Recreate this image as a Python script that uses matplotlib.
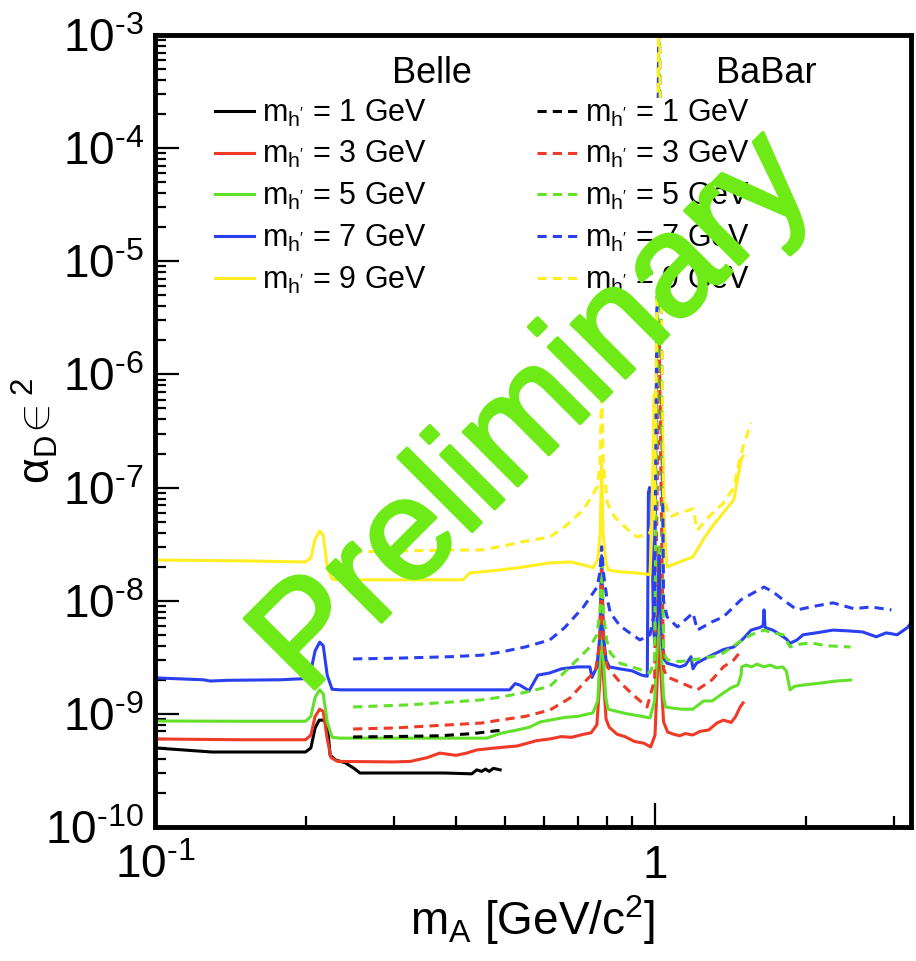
import matplotlib
matplotlib.use("Agg")
import matplotlib.pyplot as plt
import matplotlib.patheffects as pe
from matplotlib.ticker import FixedLocator, NullFormatter

plt.rcParams['font.family'] = ['Liberation Sans', 'DejaVu Sans']
plt.rcParams['mathtext.fontset'] = 'custom'
plt.rcParams['mathtext.rm'] = 'Liberation Sans'
plt.rcParams['mathtext.it'] = 'Liberation Sans:italic'
plt.rcParams['mathtext.bf'] = 'Liberation Sans:bold'
plt.rcParams['mathtext.sf'] = 'Liberation Sans'

# ---------------- Belle limits (solid) ----------------
belle_x_1 = [0.100, 0.130, 0.180, 0.200, 0.205, 0.209, 0.213, 0.217, 0.221, 0.224, 0.230, 0.240,
             0.250, 0.257, 0.300, 0.380, 0.430, 0.440, 0.450, 0.458, 0.466, 0.475, 0.490]
belle_y_1 = [5.0e-10, 4.6e-10, 4.6e-10, 4.6e-10, 5.0e-10, 7.5e-10, 8.8e-10, 8.8e-10, 8.2e-10, 4.3e-10,
             3.9e-10, 3.7e-10, 3.3e-10, 3.0e-10, 3.0e-10, 3.0e-10, 2.95e-10, 3.2e-10, 3.1e-10, 3.25e-10,
             3.1e-10, 3.3e-10, 3.2e-10]

belle_x_3 = [0.100, 0.150, 0.200, 0.205, 0.209, 0.2135, 0.217, 0.221, 0.225, 0.232, 0.300, 0.324, 0.350,
             0.371, 0.400, 0.420, 0.440, 0.480, 0.530, 0.580, 0.616, 0.650, 0.680, 0.720, 0.745, 0.765,
             0.776, 0.782, 0.788, 0.798, 0.810, 0.840, 0.870, 0.910, 0.950, 0.980, 1.000, 1.012, 1.019,
             1.026, 1.040, 1.060, 1.090, 1.120, 1.150, 1.190, 1.230, 1.280, 1.330, 1.370, 1.420, 1.450,
             1.480, 1.500]
belle_y_3 = [6.0e-10, 5.9e-10, 5.9e-10, 6.5e-10, 9.5e-10, 1.1e-9, 1.05e-9, 6.0e-10, 4.1e-10, 3.8e-10,
             3.76e-10, 3.8e-10, 4.1e-10, 4.5e-10, 4.3e-10, 4.5e-10, 4.8e-10, 5.0e-10, 5.2e-10, 5.8e-10,
             6.0e-10, 6.3e-10, 6.2e-10, 6.6e-10, 6.8e-10, 8.0e-10, 2.0e-9, 1.5e-8, 2.2e-9, 9.0e-10,
             7.6e-10, 6.6e-10, 6.3e-10, 5.7e-10, 5.5e-10, 5.1e-10, 6.5e-10, 2.5e-9, 2.0e-8, 2.5e-9,
             8.5e-10, 6.9e-10, 6.6e-10, 6.4e-10, 6.7e-10, 6.5e-10, 7.0e-10, 7.2e-10, 8.3e-10, 8.8e-10,
             8.4e-10, 9.5e-10, 1.15e-9, 1.25e-9]

belle_x_5 = [0.100, 0.150, 0.200, 0.205, 0.209, 0.2135, 0.217, 0.221, 0.226, 0.235, 0.300, 0.400, 0.461,
             0.480, 0.496, 0.530, 0.560, 0.590, 0.616, 0.660, 0.700, 0.751, 0.768, 0.777, 0.782, 0.787,
             0.797, 0.805, 0.840, 0.880, 0.930, 0.977, 0.998, 1.010, 1.019, 1.028, 1.040, 1.050, 1.090,
             1.130, 1.190, 1.250, 1.300, 1.370, 1.420, 1.465, 1.486, 1.490, 1.520, 1.560, 1.600, 1.650,
             1.700, 1.750, 1.800, 1.830, 1.862, 1.900, 1.980, 2.100, 2.200, 2.300, 2.460]
belle_y_5 = [8.65e-10, 8.6e-10, 8.6e-10, 9.5e-10, 1.4e-9, 1.63e-9, 1.5e-9, 8.5e-10, 6.2e-10, 6.1e-10,
             6.1e-10, 6.1e-10, 6.1e-10, 6.5e-10, 6.8e-10, 7.2e-10, 7.6e-10, 8.5e-10, 8.8e-10, 9.3e-10,
             9.5e-10, 1.02e-9, 1.3e-9, 3.5e-9, 2.0e-8, 3.5e-9, 1.4e-9, 1.1e-9, 1.05e-9, 1.0e-9, 9.6e-10,
             9.2e-10, 1.3e-9, 4.0e-9, 3.0e-8, 4.0e-9, 1.4e-9, 1.15e-9, 1.12e-9, 1.1e-9, 1.1e-9, 1.3e-9,
             1.3e-9, 1.53e-9, 1.7e-9, 1.8e-9, 2.2e-9, 2.6e-9, 2.7e-9, 2.6e-9, 2.75e-9, 2.6e-9, 2.7e-9,
             2.55e-9, 2.6e-9, 2.4e-9, 1.63e-9, 1.75e-9, 1.8e-9, 1.85e-9, 1.9e-9, 1.95e-9, 1.99e-9]

belle_x_7 = [0.100, 0.125, 0.129, 0.140, 0.178, 0.200, 0.205, 0.209, 0.2135, 0.217, 0.221, 0.226, 0.235,
             0.300, 0.400, 0.512, 0.525, 0.536, 0.560, 0.583, 0.600, 0.616, 0.650, 0.700, 0.741, 0.748,
             0.765, 0.776, 0.782, 0.788, 0.798, 0.810, 0.850, 0.900, 0.940, 0.965, 0.970, 0.975, 0.985,
             0.992, 1.000, 1.012, 1.019, 1.026, 1.035, 1.045, 1.057, 1.090, 1.120, 1.150, 1.180, 1.191,
             1.210, 1.280, 1.370, 1.437, 1.500, 1.556, 1.620, 1.645, 1.652, 1.660, 1.720, 1.780, 1.830,
             1.862, 1.923, 1.977, 2.100, 2.270, 2.450, 2.600, 2.770, 2.900, 3.050, 3.200, 3.300]
belle_y_7 = [2.08e-9, 2.0e-9, 1.95e-9, 1.98e-9, 2.0e-9, 2.05e-9, 2.4e-9, 3.6e-9, 4.3e-9, 4.0e-9, 2.2e-9,
             1.65e-9, 1.63e-9, 1.63e-9, 1.63e-9, 1.63e-9, 1.85e-9, 1.8e-9, 1.6e-9, 2.2e-9, 2.25e-9,
             2.3e-9, 2.5e-9, 2.6e-9, 2.6e-9, 2.1e-9, 2.6e-9, 5.0e-9, 2.5e-8, 5.0e-9, 3.0e-9, 2.6e-9,
             2.5e-9, 2.4e-9, 2.2e-9, 2.15e-9, 9.0e-8, 1.0e-7, 9.0e-8, 6.0e-9, 4.0e-9, 8.0e-9, 2.5e-8,
             8.0e-9, 4.0e-9, 3.0e-9, 2.8e-9, 2.7e-9, 2.6e-9, 2.7e-9, 3.2e-9, 2.5e-9, 2.8e-9, 3.2e-9,
             3.7e-9, 3.9e-9, 4.6e-9, 5.5e-9, 5.8e-9, 6.0e-9, 8.3e-9, 5.8e-9, 5.5e-9, 5.0e-9, 4.6e-9,
             4.2e-9, 4.5e-9, 5.0e-9, 5.2e-9, 5.5e-9, 5.4e-9, 5.3e-9, 4.8e-9, 5.2e-9, 5.0e-9, 5.8e-9,
             7.0e-9]

belle_x_9 = [0.100, 0.150, 0.200, 0.205, 0.209, 0.2135, 0.217, 0.221, 0.226, 0.235, 0.300, 0.413, 0.426,
             0.450, 0.489, 0.530, 0.570, 0.616, 0.680, 0.741, 0.751, 0.768, 0.777, 0.782, 0.787, 0.797,
             0.806, 0.851, 0.920, 0.977, 0.985, 0.995, 1.005, 1.019, 1.032, 1.045, 1.057, 1.108, 1.191,
             1.250, 1.300, 1.370, 1.437, 1.465, 1.486, 1.500]
belle_y_9 = [2.29e-8, 2.25e-8, 2.2e-8, 2.4e-8, 3.5e-8, 4.14e-8, 3.8e-8, 2.0e-8, 1.55e-8, 1.53e-8,
             1.53e-8, 1.53e-8, 1.76e-8, 1.8e-8, 1.87e-8, 1.95e-8, 2.05e-8, 2.16e-8, 2.2e-8, 2.0e-8,
             1.95e-8, 2.3e-8, 4.0e-8, 1.6e-7, 4.0e-8, 2.2e-8, 1.87e-8, 1.8e-8, 1.76e-8, 1.7e-8, 4.0e-8,
             6.5e-7, 7.3e-7, 7.0e-7, 5.0e-7, 4.0e-8, 1.99e-8, 2.16e-8, 2.44e-8, 3.5e-8, 4.5e-8, 6.0e-8,
             7.8e-8, 1.24e-7, 1.76e-7, 1.9e-7]

# ---------------- BaBar limits (dashed) ----------------
babar_x_1 = [0.249, 0.300, 0.371, 0.433, 0.470, 0.498]
babar_y_1 = [6.25e-10, 6.3e-10, 6.4e-10, 6.7e-10, 7.0e-10, 7.2e-10]

babar_x_3 = [0.249, 0.300, 0.389, 0.450, 0.489, 0.550, 0.616, 0.676, 0.730, 0.760, 0.774, 0.782, 0.790,
             0.803, 0.851, 0.900, 0.964, 0.998, 1.010, 1.019, 1.028, 1.040, 1.057, 1.122, 1.215, 1.300,
             1.370, 1.437, 1.486]
babar_y_3 = [7.35e-10, 7.5e-10, 8.0e-10, 8.3e-10, 8.8e-10, 9.5e-10, 1.08e-9, 1.38e-9, 2.0e-9, 2.4e-9,
             4.0e-9, 2.0e-8, 4.0e-9, 2.6e-9, 1.9e-9, 1.5e-9, 1.15e-9, 2.0e-9, 1.0e-7, 3.0e-6, 1.0e-7,
             2.5e-9, 2.12e-9, 1.9e-9, 1.63e-9, 2.0e-9, 2.6e-9, 3.0e-9, 3.6e-9]

babar_x_5 = [0.249, 0.320, 0.389, 0.450, 0.489, 0.550, 0.616, 0.676, 0.741, 0.765, 0.776, 0.782, 0.788,
             0.800, 0.814, 0.851, 0.900, 0.977, 0.998, 1.010, 1.019, 1.028, 1.040, 1.057, 1.120, 1.191,
             1.300, 1.370, 1.465, 1.556, 1.652, 1.720, 1.803, 1.862, 1.923, 2.050, 2.200, 2.460]
babar_y_5 = [1.15e-9, 1.2e-9, 1.27e-9, 1.33e-9, 1.4e-9, 1.55e-9, 1.75e-9, 2.6e-9, 3.9e-9, 5.0e-9, 8.0e-9,
             2.5e-8, 8.0e-9, 4.5e-9, 3.45e-9, 2.8e-9, 2.6e-9, 2.3e-9, 3.0e-9, 1.0e-6, 2.0e-3, 1.0e-6,
             3.5e-9, 3.0e-9, 2.9e-9, 3.0e-9, 3.2e-9, 3.45e-9, 4.24e-9, 5.0e-9, 5.5e-9, 5.2e-9, 5.0e-9,
             3.9e-9, 4.1e-9, 4.24e-9, 4.0e-9, 3.9e-9]

babar_x_7 = [0.249, 0.300, 0.389, 0.450, 0.489, 0.550, 0.616, 0.660, 0.719, 0.766, 0.776, 0.782, 0.788,
             0.800, 0.814, 0.851, 0.890, 0.933, 0.977, 0.998, 1.010, 1.019, 1.028, 1.040, 1.057, 1.108,
             1.191, 1.215, 1.300, 1.370, 1.486, 1.560, 1.652, 1.720, 1.803, 1.923, 2.100, 2.270, 2.500,
             2.700, 2.970]
babar_y_7 = [3.06e-9, 3.1e-9, 3.2e-9, 3.3e-9, 3.5e-9, 3.9e-9, 4.5e-9, 5.8e-9, 8.8e-9, 1.32e-8, 1.8e-8,
             3.0e-8, 1.8e-8, 1.1e-8, 7.8e-9, 6.0e-9, 5.2e-9, 4.5e-9, 5.0e-9, 8.0e-9, 1.0e-5, 5.0e-3,
             1.0e-5, 1.0e-8, 7.2e-9, 5.86e-9, 7.8e-9, 5.5e-9, 6.5e-9, 7.2e-9, 1.02e-8, 1.15e-8, 1.32e-8,
             1.2e-8, 1.02e-8, 8.3e-9, 9.0e-9, 9.57e-9, 8.5e-9, 8.8e-9, 8.3e-9]

babar_x_9 = [0.249, 0.300, 0.389, 0.450, 0.489, 0.540, 0.616, 0.660, 0.719, 0.766, 0.776, 0.782, 0.788,
             0.803, 0.830, 0.880, 0.921, 0.977, 0.998, 1.010, 1.019, 1.028, 1.040, 1.072, 1.120, 1.175,
             1.191, 1.215, 1.280, 1.370, 1.437, 1.465, 1.500, 1.556]
babar_y_9 = [2.7e-8, 2.75e-8, 2.8e-8, 2.81e-8, 3.0e-8, 3.3e-8, 3.66e-8, 4.5e-8, 6.35e-8, 1.01e-7, 1.6e-7,
             8.4e-7, 1.6e-7, 7.3e-8, 5.5e-8, 4.3e-8, 3.66e-8, 3.97e-8, 6.0e-8, 1.0e-5, 1.0e-2, 1.0e-5,
             8.0e-8, 5.51e-8, 6.0e-8, 6.35e-8, 6.5e-8, 4.2e-8, 5.5e-8, 7.3e-8, 1.0e-7, 1.52e-7, 2.3e-7,
             3.73e-7]

masses = [1, 3, 5, 7, 9]
colors = ['#000000', '#EE3A26', '#62E02A', '#2A40F0', '#FFEF22']
belle_x = [belle_x_1, belle_x_3, belle_x_5, belle_x_7, belle_x_9]
belle_y = [belle_y_1, belle_y_3, belle_y_5, belle_y_7, belle_y_9]
babar_x = [babar_x_1, babar_x_3, babar_x_5, babar_x_7, babar_x_9]
babar_y = [babar_y_1, babar_y_3, babar_y_5, babar_y_7, babar_y_9]

y_ticks = [1e-10, 1e-9, 1e-8, 1e-7, 1e-6, 1e-5, 1e-4, 1e-3]
y_tick_labels = [r'10$^{\text{-10}}$', r'10$^{\text{-9}}$', r'10$^{\text{-8}}$', r'10$^{\text{-7}}$',
                 r'10$^{\text{-6}}$', r'10$^{\text{-5}}$', r'10$^{\text{-4}}$', r'10$^{\text{-3}}$']
x_ticks = [0.1, 1.0]
x_tick_labels = [r'10$^{\text{-1}}$', '1']

fig = plt.figure(figsize=(9.16, 9.61), dpi=100)
ax = fig.add_axes([155 / 916, 1 - 827 / 961, 756 / 916, 792 / 961])
ax.set_xscale('log')
ax.set_yscale('log')

lw = 2.2
dash = (0, (3, 2))
belle_lines = []
babar_lines = []
for m, c, x, y in zip(masses, colors, belle_x, belle_y):
    ln, = ax.plot(x, y, color=c, lw=lw, solid_joinstyle='round', label=f"m$_{{\\mathrm{{h'}}}}$ = {m} GeV")
    belle_lines.append(ln)
for m, c, x, y in zip(masses, colors, babar_x, babar_y):
    ln, = ax.plot(x, y, color=c, lw=lw, linestyle=dash, label=f"m$_{{\\mathrm{{h'}}}}$ = {m} GeV")
    babar_lines.append(ln)

ax.set_xlim(0.1, 3.25)
ax.set_ylim(1e-10, 1e-3)

ax.set_xticks(x_ticks)
ax.set_xticklabels(x_tick_labels)
ax.xaxis.set_minor_locator(FixedLocator([0.2, 0.3, 0.4, 0.5, 0.6, 0.7, 0.8, 0.9, 2.0, 3.0]))
ax.xaxis.set_minor_formatter(NullFormatter())
ax.set_yticks(y_ticks)
ax.set_yticklabels(y_tick_labels)
ax.yaxis.set_minor_locator(FixedLocator([k * 10.0 ** e for e in range(-10, -3) for k in range(2, 10)]))
ax.yaxis.set_minor_formatter(NullFormatter())

ax.tick_params(which='both', direction='in', top=False, right=False, width=1.6, labelsize=33)
ax.tick_params(which='major', length=17)
ax.tick_params(which='minor', length=8)
ax.tick_params(axis='x', which='major', pad=12)
ax.tick_params(axis='y', which='major', pad=8)
for s in ax.spines.values():
    s.set_linewidth(3.5)

ax.set_xlabel(r'm$_{\mathrm{A}}$ [GeV/c$^{2}$]', fontsize=33)
ax.xaxis.set_label_coords(0.5, -0.083)
ax.set_ylabel(r'$\mathrm{\alpha}_{\mathrm{D}}\!\in^{2}$', fontsize=32, va='center')
ax.yaxis.set_label_coords(-0.159, 0.5)

leg = ax.legend(handles=belle_lines + babar_lines, ncol=2, loc='upper left',
                bbox_to_anchor=(0.079, 0.921), fontsize=22, frameon=True, fancybox=False,
                framealpha=1.0, edgecolor='none', facecolor='white',
                handlelength=1.3, handletextpad=0.25, columnspacing=3.6,
                labelspacing=0.35, borderpad=0.0, borderaxespad=0.0)
leg.set_zorder(5)

ax.text(0.366, 0.952, 'Belle', transform=ax.transAxes, fontsize=26, ha='center', va='center', zorder=6)
ax.text(0.808, 0.952, 'BaBar', transform=ax.transAxes, fontsize=26, ha='center', va='center', zorder=6)

wm_color = '#6EEB17'
ax.text(0.503, 0.52, 'Preliminary', transform=ax.transAxes, rotation=45, fontsize=104,
        color=wm_color, ha='center', va='center', zorder=10,
        path_effects=[pe.withStroke(linewidth=2.5, foreground=wm_color)])

fig.savefig('out.png', dpi=100)
